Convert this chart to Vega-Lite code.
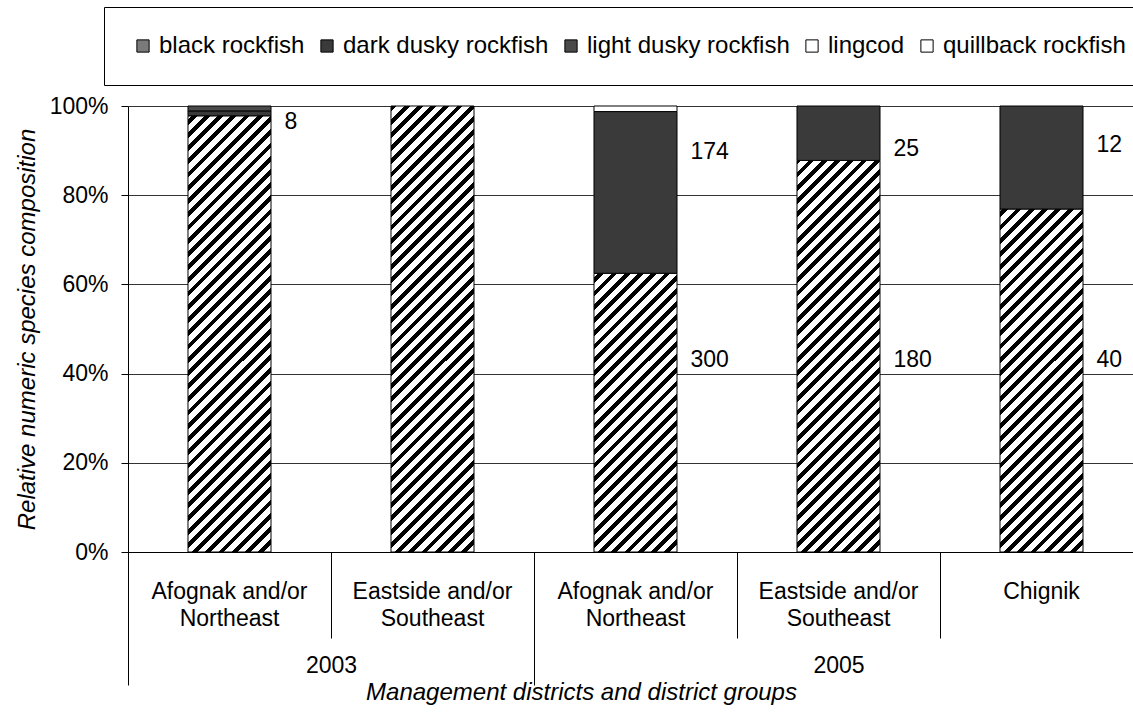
{
  "$schema": "https://vega.github.io/schema/vega-lite/v6.json",
  "width": 1005,
  "height": 446,
  "autosize": {"type": "none"},
  "padding": {"left": 128, "top": 106, "right": 0, "bottom": 161},
  "background": "white",
  "datasets": {
    "bars": [
      {"key": "2003|Afognak and/or|Northeast", "species": "black rockfish", "pct": 97.8},
      {"key": "2003|Afognak and/or|Northeast", "species": "dark dusky rockfish", "pct": 1.1},
      {"key": "2003|Afognak and/or|Northeast", "species": "light dusky rockfish", "pct": 1.1},
      {"key": "2003|Eastside and/or|Southeast", "species": "black rockfish", "pct": 100},
      {"key": "2005|Afognak and/or|Northeast", "species": "black rockfish", "pct": 62.5},
      {"key": "2005|Afognak and/or|Northeast", "species": "dark dusky rockfish", "pct": 36.25},
      {"key": "2005|Afognak and/or|Northeast", "species": "quillback rockfish", "pct": 1.25},
      {"key": "2005|Eastside and/or|Southeast", "species": "black rockfish", "pct": 87.8},
      {"key": "2005|Eastside and/or|Southeast", "species": "dark dusky rockfish", "pct": 12.2},
      {"key": "2005|Chignik|", "species": "black rockfish", "pct": 76.9},
      {"key": "2005|Chignik|", "species": "dark dusky rockfish", "pct": 23.1}
    ],
    "labels": [
      {"key": "2003|Afognak and/or|Northeast", "label": "8", "pos": 0.965},
      {"key": "2005|Afognak and/or|Northeast", "label": "174", "pos": 0.897},
      {"key": "2005|Afognak and/or|Northeast", "label": "300", "pos": 0.43},
      {"key": "2005|Eastside and/or|Southeast", "label": "25", "pos": 0.904},
      {"key": "2005|Eastside and/or|Southeast", "label": "180", "pos": 0.43},
      {"key": "2005|Chignik|", "label": "12", "pos": 0.913},
      {"key": "2005|Chignik|", "label": "40", "pos": 0.43}
    ],
    "years": [{"pos": 0}, {"pos": 5}]
  },
  "layer": [
    {
      "layer": [
        {
          "data": {"name": "bars"},
          "transform": [{"filter": "datum.species === 'black rockfish'"}],
          "mark": {
            "type": "bar",
            "stroke": null,
            "fill": {
              "gradient": "linear", "x1": 0, "y1": 0, "x2": 0.21334, "y2": 1.1464,
              "stops": [
                {"offset":0,"color":"#000"},{"offset":0.011,"color":"#000"},{"offset":0.011,"color":"#fff"},{"offset":0.025,"color":"#fff"},
                {"offset":0.025,"color":"#000"},{"offset":0.036,"color":"#000"},{"offset":0.036,"color":"#fff"},{"offset":0.05,"color":"#fff"},
                {"offset":0.05,"color":"#000"},{"offset":0.061,"color":"#000"},{"offset":0.061,"color":"#fff"},{"offset":0.075,"color":"#fff"},
                {"offset":0.075,"color":"#000"},{"offset":0.086,"color":"#000"},{"offset":0.086,"color":"#fff"},{"offset":0.1,"color":"#fff"},
                {"offset":0.1,"color":"#000"},{"offset":0.111,"color":"#000"},{"offset":0.111,"color":"#fff"},{"offset":0.125,"color":"#fff"},
                {"offset":0.125,"color":"#000"},{"offset":0.136,"color":"#000"},{"offset":0.136,"color":"#fff"},{"offset":0.15,"color":"#fff"},
                {"offset":0.15,"color":"#000"},{"offset":0.161,"color":"#000"},{"offset":0.161,"color":"#fff"},{"offset":0.175,"color":"#fff"},
                {"offset":0.175,"color":"#000"},{"offset":0.186,"color":"#000"},{"offset":0.186,"color":"#fff"},{"offset":0.2,"color":"#fff"},
                {"offset":0.2,"color":"#000"},{"offset":0.211,"color":"#000"},{"offset":0.211,"color":"#fff"},{"offset":0.225,"color":"#fff"},
                {"offset":0.225,"color":"#000"},{"offset":0.236,"color":"#000"},{"offset":0.236,"color":"#fff"},{"offset":0.25,"color":"#fff"},
                {"offset":0.25,"color":"#000"},{"offset":0.261,"color":"#000"},{"offset":0.261,"color":"#fff"},{"offset":0.275,"color":"#fff"},
                {"offset":0.275,"color":"#000"},{"offset":0.286,"color":"#000"},{"offset":0.286,"color":"#fff"},{"offset":0.3,"color":"#fff"},
                {"offset":0.3,"color":"#000"},{"offset":0.311,"color":"#000"},{"offset":0.311,"color":"#fff"},{"offset":0.325,"color":"#fff"},
                {"offset":0.325,"color":"#000"},{"offset":0.336,"color":"#000"},{"offset":0.336,"color":"#fff"},{"offset":0.35,"color":"#fff"},
                {"offset":0.35,"color":"#000"},{"offset":0.361,"color":"#000"},{"offset":0.361,"color":"#fff"},{"offset":0.375,"color":"#fff"},
                {"offset":0.375,"color":"#000"},{"offset":0.386,"color":"#000"},{"offset":0.386,"color":"#fff"},{"offset":0.4,"color":"#fff"},
                {"offset":0.4,"color":"#000"},{"offset":0.411,"color":"#000"},{"offset":0.411,"color":"#fff"},{"offset":0.425,"color":"#fff"},
                {"offset":0.425,"color":"#000"},{"offset":0.436,"color":"#000"},{"offset":0.436,"color":"#fff"},{"offset":0.45,"color":"#fff"},
                {"offset":0.45,"color":"#000"},{"offset":0.461,"color":"#000"},{"offset":0.461,"color":"#fff"},{"offset":0.475,"color":"#fff"},
                {"offset":0.475,"color":"#000"},{"offset":0.486,"color":"#000"},{"offset":0.486,"color":"#fff"},{"offset":0.5,"color":"#fff"},
                {"offset":0.5,"color":"#000"},{"offset":0.511,"color":"#000"},{"offset":0.511,"color":"#fff"},{"offset":0.525,"color":"#fff"},
                {"offset":0.525,"color":"#000"},{"offset":0.536,"color":"#000"},{"offset":0.536,"color":"#fff"},{"offset":0.55,"color":"#fff"},
                {"offset":0.55,"color":"#000"},{"offset":0.561,"color":"#000"},{"offset":0.561,"color":"#fff"},{"offset":0.575,"color":"#fff"},
                {"offset":0.575,"color":"#000"},{"offset":0.586,"color":"#000"},{"offset":0.586,"color":"#fff"},{"offset":0.6,"color":"#fff"},
                {"offset":0.6,"color":"#000"},{"offset":0.611,"color":"#000"},{"offset":0.611,"color":"#fff"},{"offset":0.625,"color":"#fff"},
                {"offset":0.625,"color":"#000"},{"offset":0.636,"color":"#000"},{"offset":0.636,"color":"#fff"},{"offset":0.65,"color":"#fff"},
                {"offset":0.65,"color":"#000"},{"offset":0.661,"color":"#000"},{"offset":0.661,"color":"#fff"},{"offset":0.675,"color":"#fff"},
                {"offset":0.675,"color":"#000"},{"offset":0.686,"color":"#000"},{"offset":0.686,"color":"#fff"},{"offset":0.7,"color":"#fff"},
                {"offset":0.7,"color":"#000"},{"offset":0.711,"color":"#000"},{"offset":0.711,"color":"#fff"},{"offset":0.725,"color":"#fff"},
                {"offset":0.725,"color":"#000"},{"offset":0.736,"color":"#000"},{"offset":0.736,"color":"#fff"},{"offset":0.75,"color":"#fff"},
                {"offset":0.75,"color":"#000"},{"offset":0.761,"color":"#000"},{"offset":0.761,"color":"#fff"},{"offset":0.775,"color":"#fff"},
                {"offset":0.775,"color":"#000"},{"offset":0.786,"color":"#000"},{"offset":0.786,"color":"#fff"},{"offset":0.8,"color":"#fff"},
                {"offset":0.8,"color":"#000"},{"offset":0.811,"color":"#000"},{"offset":0.811,"color":"#fff"},{"offset":0.825,"color":"#fff"},
                {"offset":0.825,"color":"#000"},{"offset":0.836,"color":"#000"},{"offset":0.836,"color":"#fff"},{"offset":0.85,"color":"#fff"},
                {"offset":0.85,"color":"#000"},{"offset":0.861,"color":"#000"},{"offset":0.861,"color":"#fff"},{"offset":0.875,"color":"#fff"},
                {"offset":0.875,"color":"#000"},{"offset":0.886,"color":"#000"},{"offset":0.886,"color":"#fff"},{"offset":0.9,"color":"#fff"},
                {"offset":0.9,"color":"#000"},{"offset":0.911,"color":"#000"},{"offset":0.911,"color":"#fff"},{"offset":0.925,"color":"#fff"},
                {"offset":0.925,"color":"#000"},{"offset":0.936,"color":"#000"},{"offset":0.936,"color":"#fff"},{"offset":0.95,"color":"#fff"},
                {"offset":0.95,"color":"#000"},{"offset":0.961,"color":"#000"},{"offset":0.961,"color":"#fff"},{"offset":0.975,"color":"#fff"},
                {"offset":0.975,"color":"#000"},{"offset":0.986,"color":"#000"},{"offset":0.986,"color":"#fff"},{"offset":1,"color":"#fff"}
              ]
            }
          },
          "encoding": {
            "x": {"field": "key", "type": "nominal"},
            "y": {"datum": 0, "type": "quantitative"},
            "y2": {"datum": 1}
          }
        },
        {
          "data": {"name": "bars"},
          "mark": {"type": "bar", "stroke": "#000", "strokeWidth": 1},
          "encoding": {
            "x": {"field": "key", "type": "nominal"},
            "y": {"field": "pct", "type": "quantitative", "stack": "normalize"},
            "order": {"field": "species", "sort": "ascending"},
            "fill": {
              "field": "species", "type": "nominal",
              "condition": {"test": "datum.species === 'black rockfish'", "value": "transparent"},
              "scale": {
                "domain": ["black rockfish", "dark dusky rockfish", "light dusky rockfish", "lingcod", "quillback rockfish"],
                "range": ["#7a7a7a", "#3a3a3a", "#4a4a4a", "#ffffff", "#ffffff"]
              },
              "legend": {
                "orient": "none",
                "legendX": -24,
                "legendY": -99,
                "direction": "horizontal",
                "title": null,
                "labelFontSize": 24,
                "labelColor": "#000",
                "labelLimit": 400,
                "labelOffset": 4,
                "columnPadding": 10,
                "symbolType": "square",
                "symbolSize": 150,
                "symbolStrokeColor": "#000",
                "symbolStrokeWidth": 1,
                "strokeColor": "#000",
                "padding": 27
              }
            }
          }
        },
        {
          "data": {"name": "labels"},
          "mark": {"type": "text", "align": "left", "baseline": "middle", "dx": 55, "fontSize": 23, "color": "#000"},
          "encoding": {
            "x": {"field": "key", "type": "nominal"},
            "y": {"field": "pos", "type": "quantitative"},
            "text": {"field": "label"}
          }
        }
      ],
      "encoding": {
        "x": {
          "field": "key", "type": "nominal",
          "scale": {
            "domain": ["2003|Afognak and/or|Northeast", "2003|Eastside and/or|Southeast", "2005|Afognak and/or|Northeast", "2005|Eastside and/or|Southeast", "2005|Chignik|"],
            "range": [0, 1015],
            "paddingInner": 0.591,
            "paddingOuter": 0.2955
          },
          "axis": {
            "orient": "bottom",
            "title": null,
            "ticks": false,
            "domainColor": "#000",
            "grid": false,
            "labelAngle": 0,
            "labelExpr": "[split(datum.value, '|')[1], split(datum.value, '|')[2]]",
            "labelFontSize": 23,
            "labelLineHeight": 27,
            "labelBaseline": "alphabetic",
            "labelPadding": 46,
            "labelLimit": 400,
            "labelColor": "#000"
          }
        },
        "y": {
          "type": "quantitative",
          "scale": {"domain": [0, 1], "nice": false},
          "axis": {
            "title": "Relative numeric species composition",
            "titleFontStyle": "italic",
            "titleFontWeight": "normal",
            "titleFontSize": 24,
            "titlePadding": 10,
            "titleColor": "#000",
            "values": [0, 0.2, 0.4, 0.6, 0.8, 1],
            "format": ".0%",
            "labelFontSize": 23,
            "labelColor": "#000",
            "tickSize": 7,
            "labelPadding": 13,
            "tickColor": "#000",
            "domainColor": "#000",
            "grid": true,
            "gridColor": "#333",
            "gridWidth": 1
          }
        }
      }
    },
    {
      "data": {"name": "years"},
      "mark": {"type": "rule", "opacity": 0},
      "encoding": {
        "x": {
          "field": "pos", "type": "quantitative",
          "scale": {"domain": [0, 5], "range": [0, 1015], "nice": false, "zero": false},
          "axis": {
            "orient": "bottom",
            "values": [1, 3, 4],
            "labels": false,
            "domain": false,
            "grid": false,
            "ticks": true,
            "tickSize": 86,
            "tickColor": "#000",
            "title": null
          }
        }
      }
    },
    {
      "data": {"name": "years"},
      "mark": {"type": "rule", "opacity": 0},
      "encoding": {
        "x": {
          "field": "pos", "type": "quantitative",
          "scale": {"domain": [0, 5], "range": [0, 1015], "nice": false, "zero": false},
          "axis": {
            "orient": "bottom",
            "values": [0, 2, 5],
            "labels": false,
            "domain": false,
            "grid": false,
            "ticks": true,
            "tickSize": 133,
            "tickColor": "#000",
            "title": null
          }
        }
      }
    },
    {
      "data": {"name": "years"},
      "mark": {"type": "rule", "opacity": 0},
      "encoding": {
        "x": {
          "field": "pos", "type": "quantitative",
          "scale": {"domain": [0, 5], "range": [0, 1015], "nice": false, "zero": false},
          "axis": {
            "orient": "bottom",
            "values": [1, 3.5],
            "labelExpr": "datum.value == 1 ? '2003' : '2005'",
            "labelFontSize": 23,
            "labelColor": "#000",
            "labelBaseline": "alphabetic",
            "labelPadding": 120,
            "labelFlush": false,
            "labelOverlap": false,
            "ticks": false,
            "domain": false,
            "grid": false,
            "title": "Management districts and district groups",
            "titleFontStyle": "italic",
            "titleFontWeight": "normal",
            "titleFontSize": 24,
            "titleColor": "#000",
            "titleX": 453,
            "titleY": 147,
            "titleBaseline": "alphabetic",
            "titleAlign": "center"
          }
        }
      }
    }
  ],
  "resolve": {"scale": {"x": "independent"}, "axis": {"x": "independent"}},
  "config": {
    "font": "Liberation Sans",
    "view": {"stroke": null},
    "axis": {"labelFont": "Liberation Sans", "titleFont": "Liberation Sans"},
    "legend": {"labelFont": "Liberation Sans"}
  }
}
